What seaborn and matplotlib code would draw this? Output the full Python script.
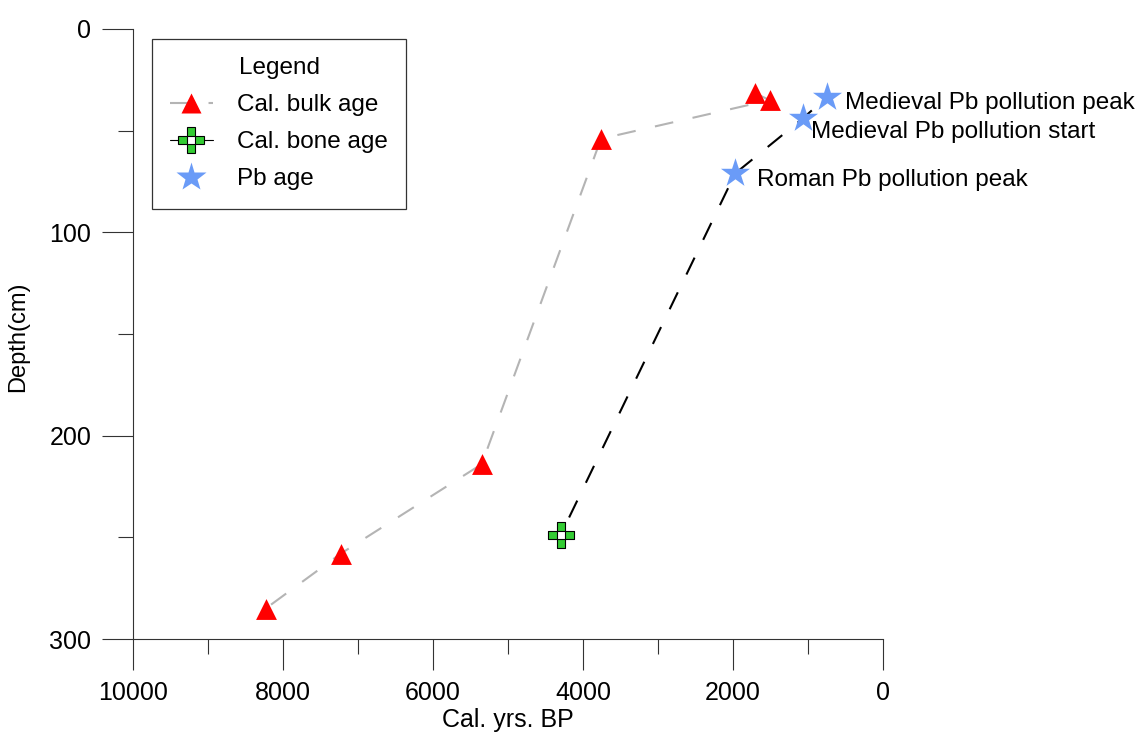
import matplotlib
matplotlib.use('Agg')
import matplotlib.pyplot as plt
import seaborn as sns
from matplotlib.lines import Line2D
from matplotlib.legend_handler import HandlerTuple
from matplotlib.ticker import MultipleLocator, FixedLocator

# ---- data ----
bulk_age = [1710, 1510, 3760, 5350, 7230, 8230]
bulk_depth = [31.5, 35, 54, 214, 258, 285]
bone_age = [4300]
bone_depth = [249]
pb_age = [1970, 1070, 750]
pb_depth = [71, 44, 33.5]
pb_labels = ["Roman Pb pollution peak", "Medieval Pb pollution start", "Medieval Pb pollution peak"]
legend_labels = ["Cal. bulk age", "Cal. bone age", "Pb age"]
x_ticks = [10000, 8000, 6000, 4000, 2000, 0]
y_ticks = [0, 100, 200, 300]

sns.set_style('ticks')
plt.rcParams['font.family'] = ['Liberation Sans', 'DejaVu Sans']
plt.rcParams['text.color'] = 'black'
plt.rcParams['axes.labelcolor'] = 'black'
plt.rcParams['xtick.labelcolor'] = 'black'
plt.rcParams['ytick.labelcolor'] = 'black'

W, H = 1145, 735
fig = plt.figure(figsize=(W / 100, H / 100), dpi=100)
ax = fig.add_axes([133 / W, 1 - 639 / H, 750 / W, 610 / H])

grey = '#B4B4B4'
red = '#FF0000'
green = '#33CC33'
blue = '#6A9BF7'

# dashed connecting lines
sns.lineplot(x=bulk_age, y=bulk_depth, sort=False, estimator=None, color=grey,
             lw=1.5, linestyle=(0, (9, 9.5)), ax=ax, zorder=1)
line_age = bone_age + pb_age
line_depth = bone_depth + pb_depth
sns.lineplot(x=line_age, y=line_depth, sort=False, estimator=None, color='black',
             lw=1.5, linestyle=(9, (9, 9.5)), ax=ax, zorder=1)

# markers
sns.scatterplot(x=bulk_age, y=bulk_depth, marker='^', s=15 ** 2, color=red,
                linewidth=0, ax=ax, zorder=3)
sns.scatterplot(x=bone_age, y=bone_depth, marker='P', s=19 ** 2, color=green,
                edgecolor='black', linewidth=0.8, ax=ax, zorder=3)
sns.scatterplot(x=bone_age, y=bone_depth, marker='s', s=(19 / 3) ** 2, color='white',
                edgecolor='black', linewidth=0.8, ax=ax, zorder=4)
sns.scatterplot(x=pb_age, y=pb_depth, marker='*', s=22 ** 2, color=blue,
                linewidth=0, ax=ax, zorder=3)

# annotations
offsets = [(16, -4.5), (6, -10), (13, -4)]
for a, d, lab, off in zip(pb_age, pb_depth, pb_labels, offsets):
    ax.annotate(lab, (a, d), xytext=off, textcoords='offset points',
                ha='left', va='center', fontsize=17.5, color='black',
                annotation_clip=False)

# axes
ax.set_xlim(10000, 0)
ax.set_ylim(300, 0)
ax.xaxis.set_major_locator(FixedLocator(x_ticks))
ax.yaxis.set_major_locator(FixedLocator(y_ticks))
ax.xaxis.set_minor_locator(MultipleLocator(1000))
ax.yaxis.set_minor_locator(MultipleLocator(50))
ax.set_xticklabels([str(t) for t in x_ticks])
ax.set_yticklabels([str(t) for t in y_ticks])
ax.tick_params(which='major', direction='out', length=22, width=0.8, color='#333333',
               labelsize=18, pad=8, bottom=True, left=True, labelcolor='black')
ax.tick_params(which='minor', direction='out', length=11, width=0.8, color='#333333',
               bottom=True, left=True)
sns.despine(ax=ax)
for s in ('left', 'bottom'):
    ax.spines[s].set_linewidth(0.8)
    ax.spines[s].set_color('#333333')

ax.set_xlabel('Cal. yrs. BP', fontsize=18, va='bottom')
ax.xaxis.set_label_coords(0.5, -0.153)
ax.set_ylabel('Depth(cm)', fontsize=17)
ax.yaxis.set_label_coords(-0.138, 0.495)

# legend
h_bulk = Line2D([], [], color=grey, lw=1.5, ls=(0, (9, 9.5)), marker='^', ms=15,
                mfc=red, mec='none')
h_bone_a = Line2D([], [], color='black', lw=0.8, marker='P', ms=19, mfc=green,
                  mec='black', mew=0.8)
h_bone_b = Line2D([], [], ls='none', marker='s', ms=19 / 3, mfc='white',
                  mec='black', mew=0.8)
h_pb = Line2D([], [], ls='none', marker='*', ms=22, mfc=blue, mec='none')
leg = ax.legend([h_bulk, (h_bone_a, h_bone_b), h_pb], legend_labels,
                handler_map={tuple: HandlerTuple(ndivide=1, pad=0)},
                title='Legend', title_fontsize=17.5, fontsize=17.5,
                loc='upper left', bbox_to_anchor=(152 / W, 1 - 39 / H),
                bbox_transform=fig.transFigure, borderaxespad=0,
                frameon=True, fancybox=False, framealpha=1,
                edgecolor='#333333', handlelength=1.75, handletextpad=1.0,
                labelspacing=0.62, borderpad=0.75)
leg.get_frame().set_linewidth(0.9)
leg.get_title().set_color('black')
for t in leg.get_texts():
    t.set_color('black')

fig.savefig('out.png', dpi=100)
